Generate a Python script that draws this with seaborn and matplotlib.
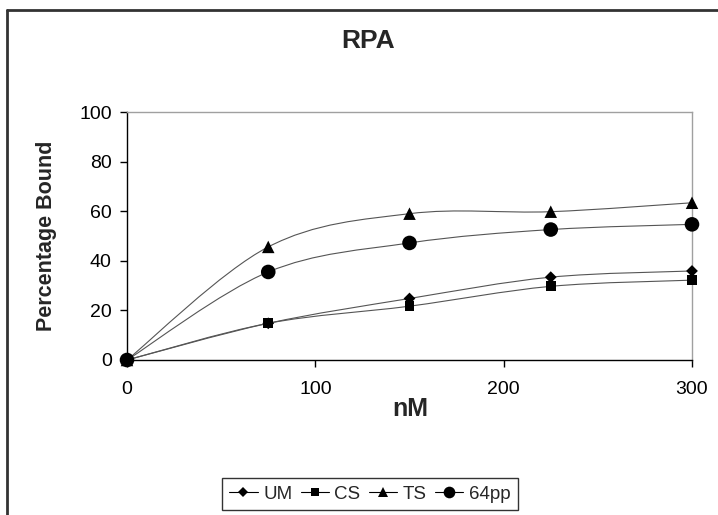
import numpy as np
import pandas as pd
import seaborn as sns
import matplotlib.pyplot as plt
from matplotlib.path import Path
from matplotlib.patches import PathPatch
from matplotlib.lines import Line2D

# values
conc = [0, 75, 150, 225, 300]
um = [0, 14.8, 24.8, 33.4, 35.9]
cs = [0, 14.8, 21.7, 29.7, 32.2]
ts = [0, 45.6, 59.0, 59.8, 63.4]
pp64 = [0, 35.5, 47.2, 52.6, 54.7]
names = ["UM", "CS", "TS", "64pp"]
markers = {"UM": "D", "CS": "s", "TS": "^", "64pp": "o"}
msize = {"UM": 6, "CS": 7, "TS": 9, "64pp": 10.5}

df = pd.DataFrame({"nM": conc * 4,
                   "bound": um + cs + ts + pp64,
                   "series": [n for n in names for _ in conc]})


def smooth_path(x, y):
    """Excel-like smoothed line as cubic bezier segments."""
    pts = np.column_stack([x, y]).astype(float)
    ext = np.vstack([pts[0], pts, pts[-1]])
    verts = [pts[0]]
    codes = [Path.MOVETO]
    for i in range(len(pts) - 1):
        p0, p1, p2, p3 = ext[i], ext[i + 1], ext[i + 2], ext[i + 3]
        verts += [p1 + (p2 - p0) / 6, p2 - (p3 - p1) / 6, p2]
        codes += [Path.CURVE4] * 3
    return Path(verts, codes)


sns.set_style("white")
plt.rcParams['font.family'] = ['Liberation Sans', 'DejaVu Sans']

fig = plt.figure(figsize=(7.18, 5.15), dpi=100)
ax = fig.add_axes([127 / 718, 1 - 360 / 515, 565 / 718, 248 / 515])

line_col = "#555555"
for n in names:
    sub = df[df.series == n]
    patch = PathPatch(smooth_path(sub.nM, sub.bound), facecolor="none",
                      edgecolor=line_col, lw=0.8, transform=ax.transData,
                      clip_on=False)
    ax.add_patch(patch)

sns.scatterplot(data=df, x="nM", y="bound", style="series",
                markers=markers, size="series", sizes={k: v ** 2 for k, v in msize.items()},
                color="black", edgecolor="black", linewidth=0, legend=False,
                ax=ax, clip_on=False, zorder=3)

ax.set_xlim(0, 300)
ax.set_ylim(0, 100)
ax.set_xticks([0, 100, 200, 300])
ax.set_yticks(range(0, 101, 20))
ax.tick_params(axis="both", direction="out", length=5, width=1,
               colors="black", labelsize=14, bottom=True, left=True)
ax.tick_params(axis="x", pad=10)
ax.tick_params(axis="y", pad=6)
for s in ["top", "right"]:
    ax.spines[s].set_color("#a0a0a0")
    ax.spines[s].set_linewidth(1)
for s in ["left", "bottom"]:
    ax.spines[s].set_color("black")
    ax.spines[s].set_linewidth(1)
ax.set_xlabel("nM", fontsize=18, fontweight="bold", va="center")
ax.xaxis.set_label_coords((410 - 127) / 565, (360 - 409) / 248)
ax.set_ylabel("Percentage Bound", fontsize=15.5, fontweight="bold", va="center")
ax.yaxis.set_label_coords((47 - 127) / 565, (360 - 236) / 248)

fig.text(368 / 718, 1 - 41 / 515, "RPA", fontsize=19, fontweight="bold",
         ha="center", va="center")

# outer chart frame (partially visible)
fig.add_artist(Line2D([7 / 718, 7 / 718], [0, 1 - 10 / 515], color="#333333", lw=2))
fig.add_artist(Line2D([7 / 718, 1], [1 - 10 / 515, 1 - 10 / 515], color="#333333", lw=2))

handles = [Line2D([], [], color="black", lw=0.8, marker=markers[n],
                  markersize=msize[n] * 0.8, markerfacecolor="black",
                  markeredgewidth=0) for n in names]
leg = fig.legend(handles, names, loc="center", ncol=4,
                 bbox_to_anchor=(370 / 718, 1 - 494 / 515), fontsize=13.5,
                 frameon=True, fancybox=False, edgecolor="black",
                 handlelength=1.5, handletextpad=0.3, columnspacing=0.45,
                 borderpad=0.4)
leg.get_frame().set_linewidth(1)

fig.savefig("out.png", dpi=100)
